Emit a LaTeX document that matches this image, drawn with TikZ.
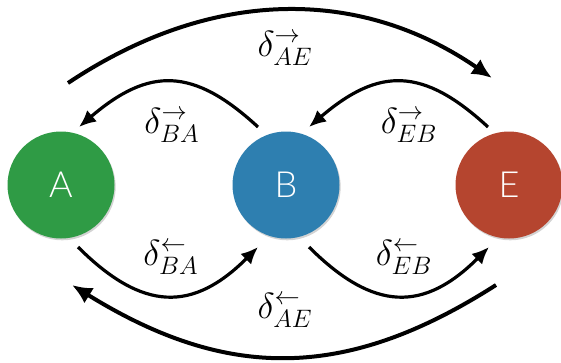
\documentclass[tikz,border=0pt]{standalone}
\usepackage{fontspec}
\usetikzlibrary{arrows.meta,shadows,calc}
\IfFontExistsTF{Lato Light}{\newfontfamily\circfont{Lato Light}}{\newfontfamily\circfont{Lato}}
\definecolor{cA}{HTML}{2F9B45}
\definecolor{cB}{HTML}{2E7FB0}
\definecolor{cE}{HTML}{B5452F}
\begin{document}
\begin{tikzpicture}[x=1pt,y=-1pt,
  state/.style={circle, minimum size=107pt, inner sep=0pt, text=white,
    font=\circfont\fontsize{36}{36}\selectfont,
    drop shadow={opacity=0.35, shadow xshift=1.2pt, shadow yshift=-1.8pt}},
  bigarc/.style={line width=4pt, -{Latex[length=20pt,width=18pt]}},
  smallarc/.style={line width=3.2pt, -{Latex[length=17pt,width=15pt]}},
  lbl/.style={font=\huge, scale=1.75, inner sep=0pt}]
\useasboundingbox (0,0) rectangle (561,362);
\node[state, fill=cA] (A) at (61,185) {A};
\node[state, fill=cB] (B) at (286,185) {B};
\node[state, fill=cE] (E) at (509,185) {E};
% endpoints
\coordinate (aeS) at ($(A)+(7,-102)$);
\coordinate (aeT) at ($(E)+(-17,-107)$);
\coordinate (baS) at ($(B)+(-28,-58)$);
\coordinate (baT) at ($(A)+(18,-58)$);
\coordinate (ebS) at ($(E)+(-21,-58)$);
\coordinate (ebT) at ($(B)+(23,-58)$);
\coordinate (abS) at ($(A)+(17,62)$);
\coordinate (abT) at ($(B)+(-28,62)$);
\coordinate (beS) at ($(B)+(23,62)$);
\coordinate (beT) at ($(E)+(-20,62)$);
\coordinate (eaS) at ($(E)+(-13,100)$);
\coordinate (eaT) at ($(A)+(11,100)$);
% arcs
\draw[bigarc] (aeS) .. controls (212,-13) and (360,-13) .. (aeT);
\draw[smallarc] (baS) .. controls (193,67) and (149,67) .. (baT);
\draw[smallarc] (ebS) .. controls (423,67) and (379,67) .. (ebT);
\draw[smallarc] (abS) .. controls (143,312) and (193,312) .. (abT);
\draw[smallarc] (beS) .. controls (374,312) and (424,312) .. (beT);
\draw[bigarc] (eaS) .. controls (346,381) and (227,381) .. (eaT);
% labels
\node[lbl] (lAEf) at (285,48) {$\delta^{\rightarrow}_{AE}$};
\node[lbl] (lBAf) at (172,125) {$\delta^{\rightarrow}_{BA}$};
\node[lbl] (lEBf) at (409,125) {$\delta^{\rightarrow}_{EB}$};
\node[lbl] (lBAb) at (171,257) {$\delta^{\leftarrow}_{BA}$};
\node[lbl] (lEBb) at (404,257) {$\delta^{\leftarrow}_{EB}$};
\node[lbl] (lAEb) at (285,310) {$\delta^{\leftarrow}_{AE}$};
\end{tikzpicture}
\end{document}
